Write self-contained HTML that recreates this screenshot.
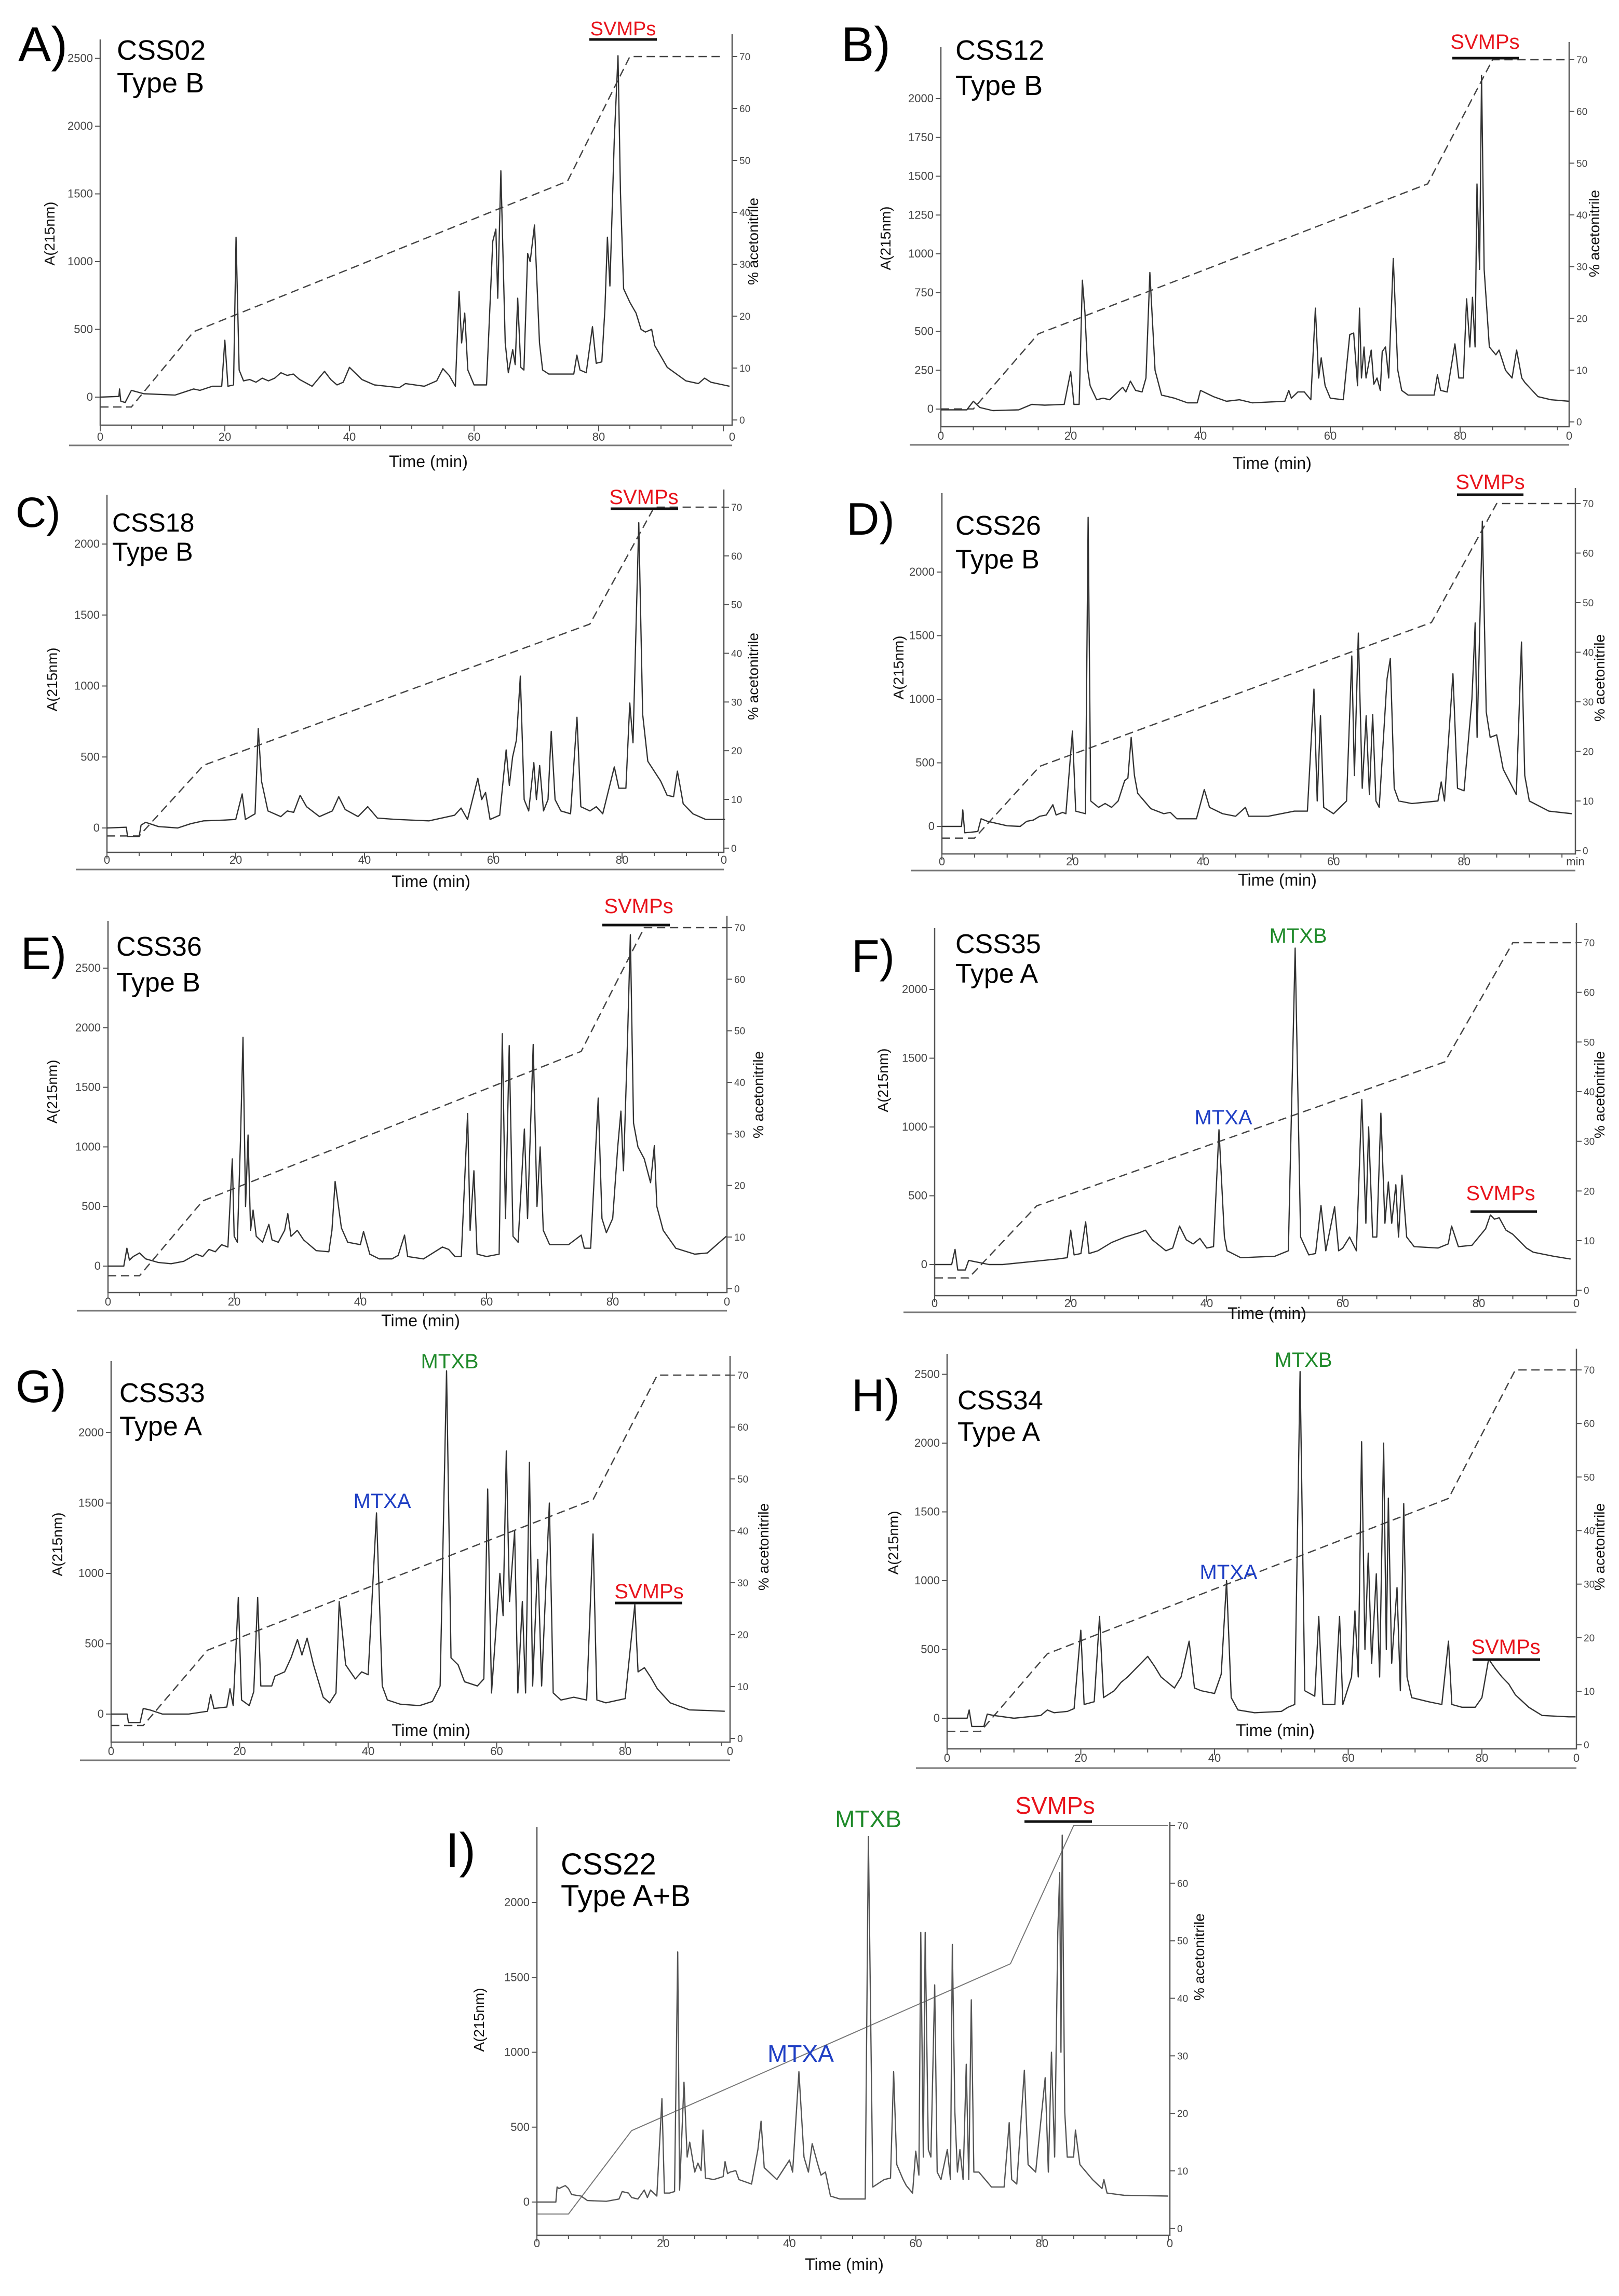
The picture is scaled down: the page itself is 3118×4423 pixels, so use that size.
<!DOCTYPE html>
<html><head><meta charset="utf-8"><title>RP-HPLC chromatograms</title>
<style>
html,body{margin:0;padding:0;background:#fff;}
svg{display:block;font-family:"Liberation Sans",Arial,sans-serif;}
</style></head>
<body>
<svg id="fig" xmlns="http://www.w3.org/2000/svg" width="3118" height="4423" viewBox="0 0 3118 4423">
<rect x="0" y="0" width="3118" height="4423" fill="#fff"/>
</svg>
<script>
// ---- Data (time in min, absorbance at 215 nm) ----
const gradTime = [0, 5, 15, 75, 85, 100];
const gradPct  = [2.5, 2.5, 17, 46, 70, 70];

const tA=[0,3,3.1,3.3,4,5,7,12,15,16,18,19.5,20,20.5,21.4,21.8,22.3,23,24,25,26,27,28,29,30,31,32,34,36,37,38,39,40,42,44,46,48,49,52,54,55,56,57,57.6,58,58.5,59,60,62,63,63.5,63.8,64.3,65,65.5,66.2,66.6,67,67.5,68,68.6,69,69.7,70.5,71,72,76,76.5,77,78,79,79.6,80.5,81,81.4,81.8,82.5,83.1,83.5,84,85,86,86.8,87.5,88.5,89,91,94,96,97,98,101];
const aA=[0,5,60,-30,-40,50,25,15,60,50,80,80,420,80,90,1180,200,120,130,110,140,120,140,180,160,170,130,80,190,130,90,110,220,130,90,80,70,100,80,120,210,160,80,780,400,620,200,90,90,1150,1240,730,1670,400,180,350,240,730,220,200,1060,1000,1270,400,200,170,170,310,200,180,520,250,260,650,1180,820,1900,2520,1500,800,700,620,500,480,500,380,220,120,100,140,110,80];

const tB=[0,4,5,6,8,12,14,16,19,20,20.5,21.3,21.8,22.2,22.6,23,24,25,26,28,28.5,29.2,30,31,31.6,32.2,33,34,36,38,39.5,40,42,44,46,48,53,53.6,54,55,56,57,57.7,58.2,58.6,59.2,60,62,63,63.6,64.2,64.5,64.8,65.2,65.5,66.3,66.7,67.2,67.7,68,68.5,69,69.7,70.4,71,72,76,76.5,77,78,79.2,79.8,80.5,81,81.5,81.9,82.3,82.6,83,83.3,83.7,84.5,85.5,86,87,88,88.7,89.5,90,92,94,96.8];
const aB=[-5,-5,50,10,-10,-5,30,25,30,240,30,30,830,620,260,150,60,70,60,140,110,180,120,110,200,880,250,90,70,40,40,120,80,50,60,40,50,120,70,110,110,60,650,200,330,150,70,60,480,490,150,650,200,400,200,380,160,200,120,370,400,200,970,250,120,90,90,220,120,110,420,200,200,710,400,720,400,1450,900,2150,900,400,350,380,250,200,380,200,170,80,60,50];

const tC=[0,3,3.2,5,5.3,6,8,11,13,15,18,20,21,21.5,23,23.5,24,25,27,28,29,30,31,33,35,36,37,39,40.5,42,45,50,54,55,56,57.6,58.2,58.8,59.5,61,62,62.5,63,63.6,64.2,64.8,65.5,66.3,66.7,67.2,67.8,68.5,69,69.6,70.5,72,73,73.6,75,76,77,78.8,79.5,80.6,81.2,81.7,82.6,83.2,84,85,86,87,88,88.6,89.5,91,93,96];
const aC=[0,5,-60,-60,20,40,10,0,30,50,55,60,240,60,100,700,330,120,80,120,110,230,150,80,120,220,130,80,150,70,60,50,90,140,60,350,200,250,60,90,550,300,500,620,1070,200,120,460,200,440,120,200,680,200,120,100,780,150,120,150,100,430,280,280,880,600,2150,800,470,400,330,230,220,400,170,100,60,60];

const tD=[0,3,3.2,3.5,5.5,6,7,10,12,13,14,15,16,17,17.5,18.5,19,20,20.5,22,22.4,22.8,24,25,26,27,28,28.5,29,29.5,30,32,34,35,36,39,40.2,41,43,45,46.5,47,50,54,56,57,57.5,58,58.5,60,62,62.8,63.2,63.8,64.4,65,65.5,66,66.5,67,68.2,68.7,69.3,70,72,76,76.5,77,78.3,79,80,81.2,81.7,82,82.8,83.4,84,85,86,87,88,88.8,89.3,90,93,96.5];
const aD=[0,0,130,-50,-40,60,40,5,0,40,50,80,90,170,90,110,100,750,120,100,2430,200,150,180,150,200,360,380,700,400,260,140,100,110,60,60,290,150,100,80,150,80,80,120,120,1080,200,870,150,100,200,1340,400,1520,300,870,250,880,200,150,1160,1320,300,200,180,200,350,200,1200,300,280,1000,1600,700,2400,900,700,720,450,350,250,1450,400,200,120,100];

const tE=[0,2.5,3,3.4,4,5,6,8,10,12,14,15,16,17,18,19,19.7,20,20.5,21,21.4,21.8,22.2,22.6,23,23.5,24.5,25.5,26,27,28,28.5,29,30,31,33,35,35.5,36,37,38,40,40.5,41.5,43,45,46,47,47.5,50,53,54,55,56,57,57.4,58,58.5,60,62,62.5,63,63.6,64.2,65,66,66.5,67.4,68,68.5,69,70,73,75,75.5,76.5,77.7,78.3,79,80,80.8,81.3,81.7,82.3,82.8,83.3,84,85,86,86.6,87,88,90,93,95,98];
const aE=[0,0,150,50,80,110,60,30,20,40,100,80,140,120,180,160,900,250,200,1050,1920,500,1100,300,470,250,200,350,220,200,300,440,250,300,220,130,120,300,710,320,200,180,290,100,60,60,90,260,80,60,160,140,80,80,1280,300,800,100,80,100,1950,400,1850,250,200,1150,400,1860,500,1000,300,180,180,260,150,150,1410,400,280,400,1000,1300,800,1800,2780,1200,1000,900,700,1010,500,300,150,100,110,250];

const tF=[0,2.5,3,3.4,4.5,5,6,8,10,14,18,19.5,20,20.5,21.5,22.2,22.7,24,26,28,30,31,32,34,35,36,37,38,39,40,41,41.8,42.6,43,45,50,52,53,53.8,55,56,56.8,57.5,58.8,59.4,60,61,62,62.8,63.4,63.8,64.4,65,65.6,66.2,66.7,67.2,67.8,68.2,68.7,69.4,70.5,74,75.5,76,77,79,81,81.7,82.3,83,84,85,87,88,91,93.5];
const aF=[0,0,110,-40,-40,30,20,0,0,20,40,50,250,70,80,310,80,100,160,200,230,250,180,100,120,280,180,150,190,120,130,980,200,100,50,60,100,2300,200,70,80,430,100,420,100,120,200,100,1200,300,1000,200,200,1100,300,600,300,580,200,650,200,130,120,150,280,130,140,260,360,330,340,250,220,120,90,60,40];

const tG=[0,2.5,2.7,4.5,5,6,8,12,15,15.5,16,18,18.5,19,19.8,20.3,21.5,22.2,22.8,23.3,25,25.5,27,28,29,29.7,30.5,31.5,33,34,35,35.5,36.5,38,39,40,41.3,42.2,43,45,48,50,51.2,52.2,52.9,54,55,57,58,58.6,59.2,60.5,61,61.5,62,62.8,63.3,64,64.5,65.1,65.6,66.4,67,68.2,68.8,70,72,74,75,75.6,77,80,81.5,82,83,84,85,87,90,93,95.5];
const aG=[0,0,-60,-60,40,30,0,0,20,140,40,50,180,60,830,100,60,160,830,200,200,270,300,400,530,420,540,350,120,80,150,800,350,250,300,280,1430,200,100,70,60,90,200,2440,400,350,230,200,250,1600,150,1000,700,1870,800,1300,150,800,150,1790,200,1100,200,1500,150,100,120,100,1280,100,80,110,780,300,330,260,180,80,30,25,20];

const tH=[0,3,3.3,3.7,5.5,6,7,10,14,15,16,18,19,20,20.5,22,22.8,23.4,25,26,27,28,30,31,32,34,35,36.2,37,38,40,41,41.8,42.5,43.5,46,50,51,52,52.8,53.5,55,55.6,56.2,58,58.7,59.2,60.5,61,61.5,62,62.5,63,63.5,64.2,64.7,65.3,65.7,66,66.5,67.3,67.8,68.3,68.8,69.5,72,74,75,75.5,77,79,80,81,82,83,84,85,87,89,93,94];
const aH=[0,0,60,-60,-60,30,20,0,20,60,40,50,70,640,100,120,740,150,200,260,300,350,450,380,300,220,300,560,220,200,180,320,1000,150,60,40,50,80,100,2520,200,160,740,100,100,740,100,300,780,300,2010,500,1200,400,1050,300,2000,500,1600,400,950,200,1560,300,150,120,100,560,100,80,80,150,430,360,300,250,170,80,20,10,10];

const tI=[0,3,3.2,3.5,4,4.5,5,5.5,7,8,11,13,13.5,14.5,15,16,17,17.5,18,19,19.8,20.2,21,21.8,22.3,22.6,23.3,23.8,24.2,25,25.5,26,26.3,26.7,28,29.5,29.8,30.2,30.6,31.5,32,34,35,35.5,36,38,40,40.5,41.5,42.3,43,43.6,44.5,45,45.7,46.5,48,52,52.5,53.2,55,56,56.5,57,58,58.5,59.5,60,60.5,60.8,61.2,61.5,62,62.4,63,63.4,64,65,65.5,65.8,66.2,66.6,67,67.5,68,68.4,68.8,69.2,70,71,72,74,74.8,75.2,76,77.2,77.8,79,80.5,81,81.5,82,82.5,82.8,83,83.2,83.6,84,85,85.3,86,88,89.5,89.8,90.3,93,100];
const aI=[0,0,100,90,100,110,90,50,40,10,5,20,70,60,30,20,80,30,80,40,690,60,60,70,1670,80,800,300,400,200,260,210,480,160,150,170,270,190,200,210,150,120,350,540,230,150,280,200,870,300,200,390,250,180,200,40,20,20,2440,100,150,160,870,250,150,110,60,340,180,1800,300,1800,350,300,1450,200,150,350,150,1720,600,200,350,150,920,150,1350,200,200,150,100,100,530,150,120,880,250,200,830,200,1000,300,1800,2200,1000,2450,600,300,300,480,250,150,90,150,60,45,40];

// ---- Layout (pixel geometry, not data) ----
const panels = [
 {id:'a',letter:'A)',lx:35,ly:118,lf:95,name:'CSS02',type:'Type B',nx:225,ny:115,ty:178,nf:54,
  x0:193,ppm:12.0,right:1410,y0:765,p1k:261,top:76,bottom:819,p70:109,p10:709,yTicks:[0,500,1000,1500,2000,2500],
  yTitle:[105,450],rTitle:[1460,465],tTitle:[825,900],lab:849,line2:858,dashed:true,t:tA,a:aA,
  ann:[{txt:'SVMPs',c:'#e8141c',x:1200,y:68,f:38,bar:[1135,1265,76]}]},
 {id:'b',letter:'B)',lx:1620,ly:118,lf:95,name:'CSS12',type:'Type B',nx:1840,ny:115,ty:183,nf:54,
  x0:1812,ppm:12.5,right:3022,y0:788,p1k:299,top:91,bottom:822,p70:115,p10:713,yTicks:[0,250,500,750,1000,1250,1500,1750,2000],
  yTitle:[1715,459],rTitle:[3080,450],tTitle:[2450,903],lab:847,line2:857,dashed:true,t:tB,a:aB,
  ann:[{txt:'SVMPs',c:'#e8141c',x:2860,y:94,f:40,bar:[2797,2925,112]}]},
 {id:'c',letter:'C)',lx:30,ly:1015,lf:82,name:'CSS18',type:'Type B',nx:216,ny:1024,ty:1080,nf:50,
  x0:206,ppm:12.4,right:1394,y0:1595,p1k:273.5,top:953,bottom:1642,p70:977,p10:1540,yTicks:[0,500,1000,1500,2000],
  yTitle:[110,1309],rTitle:[1460,1303],tTitle:[830,1709],lab:1664,line2:1675,dashed:true,t:tC,a:aC,
  ann:[{txt:'SVMPs',c:'#e8141c',x:1240,y:971,f:40,bar:[1176,1306,980]}]},
 {id:'d',letter:'D)',lx:1630,ly:1030,lf:88,name:'CSS26',type:'Type B',nx:1840,ny:1030,ty:1095,nf:52,
  x0:1814,ppm:12.57,right:3034,y0:1592,p1k:245,top:950,bottom:1645,p70:970,p10:1543,yTicks:[0,500,1000,1500,2000],
  yTitle:[1740,1286],rTitle:[3090,1306],tTitle:[2460,1706],lab:1667,line2:1677,dashed:true,t:tD,a:aD,xEnd:'min',
  ann:[{txt:'SVMPs',c:'#e8141c',x:2870,y:942,f:40,bar:[2806,2934,953]}]},
 {id:'e',letter:'E)',lx:40,ly:1867,lf:88,name:'CSS36',type:'Type B',nx:224,ny:1841,ty:1910,nf:52,
  x0:208,ppm:12.15,right:1400,y0:2439,p1k:229.6,top:1774,bottom:2490,p70:1787,p10:2383,yTicks:[0,500,1000,1500,2000,2500],
  yTitle:[110,2103],rTitle:[1470,2109],tTitle:[810,2555],lab:2515,line2:2525,dashed:true,t:tE,a:aE,
  ann:[{txt:'SVMPs',c:'#e8141c',x:1230,y:1759,f:40,bar:[1160,1290,1782]}]},
 {id:'f',letter:'F)',lx:1640,ly:1872,lf:88,name:'CSS35',type:'Type A',nx:1840,ny:1836,ty:1893,nf:52,
  x0:1800,ppm:13.1,right:3036,y0:2436,p1k:265,top:1788,bottom:2496,p70:1816,p10:2390,yTicks:[0,500,1000,1500,2000],
  yTitle:[1710,2081],rTitle:[3090,2109],tTitle:[2440,2541],lab:2518,line2:2528,dashed:true,t:tF,a:aF,
  ann:[{txt:'MTXB',c:'#1f8a2a',x:2500,y:1816,f:40},{txt:'MTXA',c:'#1f3fc4',x:2356,y:2166,f:40},
       {txt:'SVMPs',c:'#e8141c',x:2890,y:2312,f:40,bar:[2832,2960,2334]}]},
 {id:'g',letter:'G)',lx:30,ly:2701,lf:88,name:'CSS33',type:'Type A',nx:230,ny:2701,ty:2765,nf:52,
  x0:214,ppm:12.375,right:1406,y0:3302,p1k:271,top:2622,bottom:3356,p70:2649,p10:3249,yTicks:[0,500,1000,1500,2000],
  yTitle:[120,2975],rTitle:[1480,2980],tTitle:[830,3344],lab:3381,line2:3391,dashed:true,t:tG,a:aG,
  ann:[{txt:'MTXB',c:'#1f8a2a',x:866,y:2636,f:40},{txt:'MTXA',c:'#1f3fc4',x:736,y:2905,f:40},
       {txt:'SVMPs',c:'#e8141c',x:1250,y:3079,f:40,bar:[1184,1314,3088]}]},
 {id:'h',letter:'H)',lx:1640,ly:2718,lf:88,name:'CSS34',type:'Type A',nx:1844,ny:2715,ty:2776,nf:52,
  x0:1824,ppm:12.875,right:3036,y0:3310,p1k:265,top:2608,bottom:3369,p70:2639,p10:3258,yTicks:[0,500,1000,1500,2000,2500],
  yTitle:[1730,2972],rTitle:[3090,2980],tTitle:[2456,3344],lab:3394,line2:3406,dashed:true,t:tH,a:aH,
  ann:[{txt:'MTXB',c:'#1f8a2a',x:2510,y:2633,f:40},{txt:'MTXA',c:'#1f3fc4',x:2366,y:3042,f:40},
       {txt:'SVMPs',c:'#e8141c',x:2900,y:3186,f:40,bar:[2836,2966,3197]}]},
 {id:'i',letter:'I)',lx:858,ly:3597,lf:95,name:'CSS22',type:'Type A+B',nx:1080,ny:3611,ty:3672,nf:58,
  x0:1034,ppm:12.16,right:2253,y0:4242,p1k:288.5,top:3520,bottom:4306,p70:3517,p10:4182,yTicks:[0,500,1000,1500,2000],
  yTitle:[932,3891],rTitle:[2319,3770],tTitle:[1626,4373],lab:4329,line2:null,dashed:false,t:tI,a:aI,
  ann:[{txt:'MTXB',c:'#1f8a2a',x:1672,y:3520,f:46},{txt:'MTXA',c:'#1f3fc4',x:1542,y:3972,f:46},
       {txt:'SVMPs',c:'#e8141c',x:2032,y:3494,f:46,bar:[1973,2103,3509]}]}
];

const NS='http://www.w3.org/2000/svg';
const svg=document.getElementById('fig');
function mk(tag,attrs,parent){const e=document.createElementNS(NS,tag);for(const k in attrs)e.setAttribute(k,attrs[k]);(parent||svg).appendChild(e);return e;}

panels.forEach(p=>{
  const g=mk('g',{});
  
  
  const tmax=(p.right-p.x0)/p.ppm;
  const X=t=>p.x0+t*p.ppm;
  const Y=a=>p.y0-a*p.p1k/1000;
  const P=v=>p.p10-(v-10)*(p.p10-p.p70)/60;

  // axes
  const ax=mk('path',{d:`M${p.x0},${p.top}V${p.bottom}H${p.right}V${p.top-10}`,fill:'none',stroke:'#555','stroke-width':2.5},g);
  
  
  if(p.line2){
    const l2=mk('line',{x1:p.x0-60,x2:p.right,y1:p.line2,y2:p.line2,stroke:'#777','stroke-width':3},g);
    
    
  }
  // x ticks
  for(let t=0;t<=tmax+0.01;t+=5){
    mk('line',{x1:X(t),x2:X(t),y1:p.bottom,y2:p.bottom+(t%20===0?12:7),stroke:'#555','stroke-width':2},g);
  }
  [0,20,40,60,80].forEach(t=>{
    const tx=mk('text',{x:X(t),y:p.lab,'font-size':22,'text-anchor':'middle',fill:'#444'},g);
    
    
    tx.textContent=t;
  });
  const te=mk('text',{x:p.right,y:p.lab,'font-size':22,'text-anchor':'middle',fill:'#444'},g);
  
  
  te.textContent=p.xEnd||'0';
  // y ticks
  p.yTicks.forEach(v=>{
    mk('line',{x1:p.x0-10,x2:p.x0,y1:Y(v),y2:Y(v),stroke:'#555','stroke-width':2},g);
    const ty=mk('text',{x:p.x0-14,y:Y(v)+7,'font-size':22,'text-anchor':'end',fill:'#444'},g);
    
    
    ty.textContent=v;
  });
  // right % ticks
  for(let v=0;v<=70;v+=10){
    if(P(v)>p.bottom+5) continue;
    mk('line',{x1:p.right,x2:p.right+10,y1:P(v),y2:P(v),stroke:'#555','stroke-width':2},g);
    const tr=mk('text',{x:p.right+14,y:P(v)+7,'font-size':19,fill:'#444'},g);
    
    
    tr.textContent=v;
  }
  // titles
  const yt=mk('text',{x:p.yTitle[0],y:p.yTitle[1],'font-size':28,'text-anchor':'middle',transform:`rotate(-90 ${p.yTitle[0]} ${p.yTitle[1]})`,fill:'#111'},g);
  
  
  yt.textContent='A(215nm)';
  const rt=mk('text',{x:p.rTitle[0],y:p.rTitle[1],'font-size':28,'text-anchor':'middle',transform:`rotate(-90 ${p.rTitle[0]} ${p.rTitle[1]})`,fill:'#111'},g);
  
  
  rt.textContent='% acetonitrile';
  const xt=mk('text',{x:p.tTitle[0],y:p.tTitle[1],'font-size':32,'text-anchor':'middle',fill:'#111'},g);
  
  
  xt.textContent='Time (min)';
  // gradient
  let gd='';
  gradTime.forEach((t,i)=>{const tt=Math.min(t,tmax);gd+=(i?'L':'M')+X(tt).toFixed(1)+','+P(gradPct[i]).toFixed(1);});
  const gl=mk('path',{d:gd,fill:'none',stroke:p.dashed?'#444':'#777','stroke-width':p.dashed?2.5:2,'stroke-dasharray':p.dashed?'16 9':'none'},g);
  
  
  // trace
  let d='';
  p.t.forEach((t,i)=>{d+=(i?'L':'M')+X(t).toFixed(1)+','+Y(p.a[i]).toFixed(1);});
  const tr=mk('path',{d:d,fill:'none',stroke:p.dashed?'#333':'#555','stroke-width':2.4,'stroke-linejoin':'round'},g);
  
  
  // labels
  const lt=mk('text',{x:p.lx,y:p.ly,'font-size':p.lf,fill:'#000'},g);
  
  
  lt.textContent=p.letter;
  const nt=mk('text',{x:p.nx,y:p.ny,'font-size':p.nf,fill:'#000'},g);
  
  
  nt.textContent=p.name;
  const tt=mk('text',{x:p.nx,y:p.ty,'font-size':p.nf,fill:'#000'},g);
  
  
  tt.textContent=p.type;
  p.ann.forEach(a=>{
    const at=mk('text',{x:a.x,y:a.y,'font-size':a.f,'text-anchor':'middle',fill:a.c},g);
    
    
    at.textContent=a.txt;
    if(a.bar){
      const b=mk('line',{x1:a.bar[0],x2:a.bar[1],y1:a.bar[2],y2:a.bar[2],stroke:'#111','stroke-width':5},g);
      
      
    }
  });
});
</script>
</body></html>
